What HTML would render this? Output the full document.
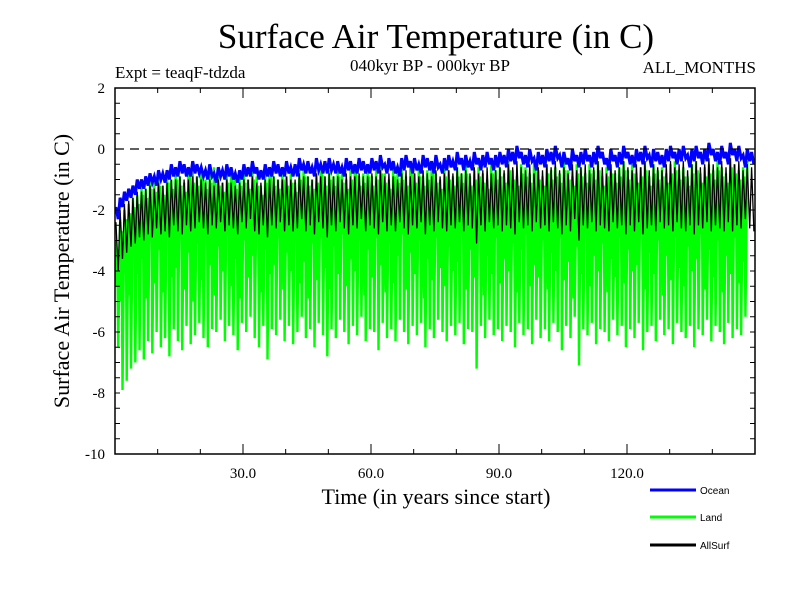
<!DOCTYPE html>
<html><head><meta charset="utf-8"><style>
body{margin:0;background:#fff}
svg{display:block}
text{font-family:"Liberation Serif",serif;fill:#000}
</style></head><body>
<svg id="chart" width="800" height="600" viewBox="0 0 800 600">
<defs><clipPath id="plotclip"><rect x="115" y="88" width="640" height="366"/></clipPath></defs>
<rect width="800" height="600" fill="#fff"/>
<text x="436" y="48" font-size="35" text-anchor="middle">Surface Air Temperature (in C)</text>
<text x="115" y="78" font-size="17">Expt = teaqF-tdzda</text>
<text x="430" y="71" font-size="17" text-anchor="middle">040kyr BP - 000kyr BP</text>
<text x="756" y="73" font-size="17" text-anchor="end">ALL_MONTHS</text>
<text transform="translate(69,271) rotate(-90)" font-size="22" text-anchor="middle">Surface Air Temperature (in C)</text>
<text x="436" y="504" font-size="22" text-anchor="middle">Time (in years since start)</text>
<g id="series" clip-path="url(#plotclip)"></g>
<g id="axes"></g>
<g>
<line x1="650" y1="490" x2="696" y2="490" stroke="#0000ff" stroke-width="3"/>
<text x="700" y="494" font-size="10" style="font-family:'Liberation Sans',sans-serif">Ocean</text>
<line x1="650" y1="517" x2="696" y2="517" stroke="#00ff00" stroke-width="3"/>
<text x="700" y="521" font-size="10" style="font-family:'Liberation Sans',sans-serif">Land</text>
<line x1="650" y1="545" x2="696" y2="545" stroke="#000" stroke-width="3"/>
<text x="700" y="549" font-size="10" style="font-family:'Liberation Sans',sans-serif">AllSurf</text>
</g>
</svg>
<script>
const yTicks=[2,0,-2,-4,-6,-8,-10];
const xTicks=[30,60,90,120];
const xTickLabels=["30.0","60.0","90.0","120.0"];
const landMax=[-3.0,-2.4,-2.0,-1.8,-1.6,-1.5,-1.2,-1.3,-1.0,-1.1,-0.9,-1.2,-0.8,-1.0,-0.7,-0.9,-1.1,-0.6,-0.8,-0.9,-0.7,-1.0,-0.8,-0.6,-0.9,-1.1,-0.8,-0.7,-1.0,-0.9,-0.8,-1.0,-0.7,-0.9,-1.2,-0.8,-0.6,-0.9,-1.0,-0.7,-0.9,-0.8,-1.1,-0.7,-0.6,-0.9,-1.0,-0.8,-0.5,-0.9,-0.7,-0.9,-0.6,-0.8,-1.0,-0.7,-0.5,-0.9,-0.8,-0.6,-0.9,-0.7,-0.5,-0.8,-1.0,-0.6,-0.8,-0.7,-0.9,-0.5,-0.8,-0.6,-0.9,-0.7,-0.5,-0.8,-1.0,-0.6,-0.7,-0.9,-0.6,-0.8,-0.5,-0.9,-0.7,-0.6,-0.8,-1.0,-0.5,-0.7,-0.6,-0.8,-0.4,-0.7,-0.9,-0.5,-0.6,-0.8,-0.4,-0.7,-0.9,-0.5,-0.7,-0.6,-0.8,-0.4,-0.7,-0.9,-0.5,-0.6,-0.8,-0.5,-0.7,-0.4,-0.9,-0.6,-0.5,-0.8,-0.6,-0.4,-0.7,-0.5,-0.8,-0.6,-0.4,-0.9,-0.5,-0.7,-0.6,-0.8,-0.5,-0.4,-0.7,-0.6,-0.9,-0.5,-0.4,-0.8,-0.6,-0.5,-0.7,-0.4,-0.6,-0.8,-0.3,-0.5,-0.7,-0.6,-0.4,-0.5];
const landMin=[-6.5,-7.9,-7.6,-7.2,-7.0,-6.6,-6.9,-6.3,-6.7,-6.0,-6.5,-6.2,-6.8,-5.9,-6.3,-6.6,-5.8,-6.4,-6.1,-5.7,-6.2,-6.5,-5.9,-6.0,-5.6,-6.3,-5.8,-6.1,-6.6,-5.7,-6.0,-5.5,-6.2,-6.5,-5.8,-6.9,-5.9,-6.1,-5.6,-6.3,-5.8,-6.4,-6.0,-5.5,-6.2,-5.9,-6.5,-5.7,-6.1,-6.8,-5.9,-6.2,-5.6,-6.0,-6.4,-5.8,-6.1,-5.5,-6.3,-5.9,-6.0,-6.6,-5.7,-6.2,-5.9,-6.3,-5.6,-6.0,-6.4,-5.8,-6.1,-5.7,-6.5,-5.9,-6.2,-5.6,-6.0,-6.3,-5.8,-6.1,-5.7,-6.4,-5.9,-6.0,-7.2,-5.8,-6.2,-5.6,-6.1,-5.9,-6.3,-5.8,-6.0,-6.5,-5.7,-6.1,-5.9,-6.4,-5.6,-6.2,-5.9,-6.3,-5.7,-6.0,-6.6,-5.8,-6.2,-5.5,-7.1,-5.9,-6.1,-5.7,-6.4,-5.9,-6.0,-6.3,-5.6,-6.1,-5.8,-6.5,-5.9,-6.2,-5.7,-6.6,-6.0,-5.8,-6.3,-5.6,-6.1,-5.9,-6.4,-5.7,-6.0,-6.2,-5.8,-6.5,-5.9,-6.1,-5.6,-6.3,-5.8,-6.0,-6.4,-5.7,-6.2,-5.9,-6.1,-5.5,-6.0,-6.3];
const landMid=[-4.5,-5.0,-3.2,-4.8,-2.9,-4.1,-3.6,-4.9,-3.0,-4.4,-3.3,-4.7,-2.8,-4.2,-3.9,-2.7,-4.6,-3.4,-5.0,-3.1,-4.3,-2.9,-3.8,-4.8,-3.2,-4.0,-2.8,-4.5,-3.6,-4.9,-3.0,-4.2,-3.5,-2.7,-4.7,-3.3,-4.1,-3.8,-2.9,-4.6,-3.4,-4.0,-2.8,-4.4,-3.7,-4.9,-3.1,-4.3,-2.9,-3.9,-4.6,-3.2,-4.1,-2.8,-4.5,-3.6,-4.0,-3.0,-4.8,-3.3,-4.2,-2.9,-3.8,-4.7,-3.1,-4.4,-3.5,-2.8,-4.6,-3.4,-4.1,-3.0,-4.9,-3.6,-4.3,-2.9,-3.9,-4.5,-3.2,-4.0,-3.7,-2.8,-4.6,-3.3,-4.2,-3.0,-4.8,-3.5,-4.1,-2.9,-4.4,-3.6,-4.0,-3.1,-4.7,-3.3,-2.8,-4.5,-3.8,-4.2,-3.0,-4.6,-3.4,-4.0,-2.9,-4.3,-3.7,-4.9,-3.2,-4.1,-2.8,-4.5,-3.5,-4.0,-3.1,-4.7,-3.6,-4.2,-2.9,-4.4,-3.3,-4.0,-3.8,-2.8,-4.6,-3.4,-4.1,-3.0,-4.8,-3.5,-4.3,-2.9,-3.9,-4.5,-3.2,-4.0,-3.6,-2.8,-4.6,-3.3,-4.2,-3.0,-4.7,-3.5,-4.1,-2.9,-4.4,-3.7];
const oceanMax=[-1.9,-1.6,-1.4,-1.3,-1.2,-1.0,-1.0,-0.9,-0.8,-0.9,-0.7,-0.8,-0.7,-0.5,-0.6,-0.4,-0.5,-0.6,-0.4,-0.5,-0.6,-0.7,-0.5,-0.8,-0.6,-0.7,-0.5,-0.6,-0.8,-0.7,-0.5,-0.6,-0.4,-0.6,-0.7,-0.5,-0.6,-0.4,-0.5,-0.6,-0.4,-0.6,-0.5,-0.3,-0.5,-0.4,-0.6,-0.3,-0.5,-0.4,-0.3,-0.5,-0.4,-0.6,-0.3,-0.4,-0.5,-0.3,-0.4,-0.5,-0.3,-0.4,-0.2,-0.5,-0.3,-0.4,-0.6,-0.3,-0.2,-0.4,-0.3,-0.5,-0.2,-0.3,-0.4,-0.2,-0.5,-0.3,-0.2,-0.4,-0.1,-0.3,-0.2,-0.4,-0.1,-0.3,-0.2,-0.1,-0.3,-0.2,-0.1,-0.2,0.0,-0.1,0.1,-0.1,-0.2,0.0,-0.3,-0.1,-0.2,0.0,-0.1,0.1,-0.2,-0.1,-0.3,0.0,-0.2,-0.1,0.0,-0.2,-0.1,0.1,-0.1,-0.3,0.0,-0.2,-0.1,0.1,-0.1,-0.2,0.0,-0.1,0.1,-0.2,0.0,-0.1,-0.2,0.0,0.1,-0.1,0.0,0.1,-0.2,0.0,0.1,-0.1,0.0,0.2,0.0,-0.1,0.1,-0.1,0.2,0.0,0.1,-0.2,0.0,-0.1];
const oceanMin=[-2.3,-1.9,-1.7,-1.6,-1.5,-1.3,-1.3,-1.2,-1.1,-1.2,-1.0,-1.1,-1.0,-0.9,-0.9,-0.8,-0.9,-0.9,-0.8,-0.8,-0.9,-1.0,-0.9,-1.1,-0.9,-1.0,-0.9,-1.0,-1.1,-1.0,-0.9,-0.9,-0.8,-1.0,-1.0,-0.9,-0.9,-0.8,-0.9,-0.9,-0.8,-0.9,-0.9,-0.7,-0.8,-0.8,-0.9,-0.7,-0.8,-0.8,-0.7,-0.8,-0.8,-0.9,-0.7,-0.8,-0.8,-0.7,-0.8,-0.8,-0.7,-0.8,-0.6,-0.8,-0.7,-0.8,-0.9,-0.7,-0.6,-0.8,-0.7,-0.8,-0.6,-0.7,-0.8,-0.6,-0.8,-0.7,-0.6,-0.7,-0.5,-0.7,-0.6,-0.7,-0.5,-0.7,-0.6,-0.5,-0.7,-0.6,-0.5,-0.6,-0.4,-0.5,-0.3,-0.5,-0.6,-0.4,-0.7,-0.5,-0.6,-0.4,-0.5,-0.3,-0.6,-0.5,-0.7,-0.4,-0.6,-0.5,-0.4,-0.6,-0.5,-0.3,-0.5,-0.7,-0.4,-0.6,-0.5,-0.3,-0.5,-0.6,-0.4,-0.5,-0.3,-0.6,-0.4,-0.5,-0.6,-0.4,-0.3,-0.5,-0.4,-0.3,-0.6,-0.4,-0.3,-0.5,-0.4,-0.2,-0.4,-0.5,-0.3,-0.5,-0.2,-0.4,-0.3,-0.6,-0.4,-0.5];
const allMax=[-2.4,-2.0,-1.8,-1.7,-1.6,-1.4,-1.4,-1.3,-1.2,-1.3,-1.1,-1.2,-1.1,-1.0,-1.0,-0.9,-1.0,-1.0,-0.9,-0.9,-1.0,-1.1,-1.0,-1.2,-1.0,-1.1,-1.0,-1.1,-1.2,-1.1,-1.0,-1.0,-0.9,-1.1,-1.1,-1.0,-1.0,-0.9,-1.0,-1.0,-0.9,-1.0,-1.0,-0.8,-0.9,-0.9,-1.0,-0.8,-0.9,-0.9,-0.8,-0.9,-0.9,-1.0,-0.8,-0.9,-0.9,-0.8,-0.9,-0.9,-0.8,-0.9,-0.7,-0.9,-0.8,-0.9,-1.0,-0.8,-0.7,-0.9,-0.8,-0.9,-0.7,-0.8,-0.9,-0.7,-0.9,-0.8,-0.7,-0.8,-0.6,-0.8,-0.7,-0.8,-0.6,-0.8,-0.7,-0.6,-0.8,-0.7,-0.6,-0.7,-0.5,-0.6,-0.4,-0.6,-0.7,-0.5,-0.8,-0.6,-0.7,-0.5,-0.6,-0.4,-0.7,-0.6,-0.8,-0.5,-0.7,-0.6,-0.5,-0.7,-0.6,-0.4,-0.6,-0.8,-0.5,-0.7,-0.6,-0.4,-0.6,-0.7,-0.5,-0.6,-0.4,-0.7,-0.5,-0.6,-0.7,-0.5,-0.4,-0.6,-0.5,-0.4,-0.7,-0.5,-0.4,-0.6,-0.5,-0.3,-0.5,-0.6,-0.4,-0.6,-0.3,-0.5,-0.4,-0.7,-0.5,-0.6];
const allMin=[-4.0,-3.6,-3.4,-3.2,-3.1,-2.9,-3.0,-2.8,-2.9,-2.6,-2.8,-2.7,-2.9,-2.5,-2.7,-2.8,-2.5,-2.7,-2.6,-2.4,-2.6,-2.8,-2.5,-2.6,-2.4,-2.7,-2.5,-2.6,-2.8,-2.4,-2.6,-2.3,-2.7,-2.8,-2.5,-2.9,-2.5,-2.6,-2.4,-2.7,-2.5,-2.7,-2.6,-2.3,-2.7,-2.5,-2.8,-2.4,-2.6,-2.9,-2.5,-2.7,-2.4,-2.6,-2.8,-2.5,-2.6,-2.3,-2.7,-2.5,-2.6,-2.8,-2.4,-2.7,-2.5,-2.7,-2.4,-2.6,-2.8,-2.5,-2.6,-2.4,-2.8,-2.5,-2.7,-2.4,-2.6,-2.7,-2.5,-2.6,-2.4,-2.7,-2.5,-2.6,-3.1,-2.5,-2.7,-2.4,-2.6,-2.5,-2.7,-2.5,-2.6,-2.8,-2.4,-2.6,-2.5,-2.7,-2.4,-2.6,-2.5,-2.7,-2.4,-2.6,-2.8,-2.5,-2.7,-2.3,-3.0,-2.5,-2.6,-2.4,-2.7,-2.5,-2.6,-2.7,-2.4,-2.6,-2.5,-2.8,-2.5,-2.7,-2.4,-2.8,-2.6,-2.5,-2.7,-2.4,-2.6,-2.5,-2.7,-2.4,-2.6,-2.7,-2.5,-2.8,-2.5,-2.6,-2.4,-2.7,-2.5,-2.6,-2.7,-2.4,-2.7,-2.5,-2.6,-2.3,-2.6,-2.7];

const X0=115,X1=755,Y0=88,Y1=454,XMIN=0,XMAX=150,YMIN=-10,YMAX=2;
const sx=v=>X0+(v-XMIN)/(XMAX-XMIN)*(X1-X0);
const sy=v=>Y1-(v-YMIN)/(YMAX-YMIN)*(Y1-Y0);
const NS="http://www.w3.org/2000/svg";
const series=document.getElementById('series');
const axes=document.getElementById('axes');
function mk(tag,attrs,parent){const e=document.createElementNS(NS,tag);for(const k in attrs)e.setAttribute(k,attrs[k]);parent.appendChild(e);return e;}

function zig(maxArr,minArr,midArr){let d='';for(let i=0;i<maxArr.length;i++){
  d+=(i?'L':'M')+sx(i+0.2).toFixed(1)+','+sy(maxArr[i]).toFixed(1);
  if(midArr){d+='L'+sx(i+0.45).toFixed(1)+','+sy(midArr[i]).toFixed(1)+'L'+sx(i+0.55).toFixed(1)+','+sy(maxArr[i]-0.3).toFixed(1);}
  d+='L'+sx(i+0.75).toFixed(1)+','+sy(minArr[i]).toFixed(1);}return d;}

const land=mk('path',{d:zig(landMax,landMin,landMid),fill:'none',stroke:'#00ff00','stroke-width':2.4},series);


const all=mk('path',{d:zig(allMax,allMin),fill:'none',stroke:'#000','stroke-width':1.3},series);


const ocean=mk('path',{d:zig(oceanMax,oceanMin),fill:'none',stroke:'#0000ff','stroke-width':3},series);



const zero=mk('line',{x1:X0,x2:X1,y1:sy(0),y2:sy(0),stroke:'#000','stroke-width':1.2,'stroke-dasharray':'9,6'},axes);


const frame=mk('rect',{x:X0,y:Y0,width:X1-X0,height:Y1-Y0,fill:'none',stroke:'#000','stroke-width':1.5},axes);



for(let v=YMIN+0.5;v<YMAX;v+=0.5){
  mk('line',{x1:X0,x2:X0+5,y1:sy(v),y2:sy(v),stroke:'#000'},axes);
  mk('line',{x1:X1-5,x2:X1,y1:sy(v),y2:sy(v),stroke:'#000'},axes);
}
yTicks.forEach(v=>{
  const t=mk('text',{x:X0-10,y:sy(v)+5,'font-size':15,'text-anchor':'end'},axes);
  t.textContent=String(v);
  
  
});
for(let v=10;v<XMAX;v+=10){
  const major=v%30===0;const L=major?10:5;
  mk('line',{x1:sx(v),x2:sx(v),y1:Y1,y2:Y1-L,stroke:'#000'},axes);
  mk('line',{x1:sx(v),x2:sx(v),y1:Y0,y2:Y0+L,stroke:'#000'},axes);
}
xTicks.forEach((v,i)=>{
  const t=mk('text',{x:sx(v),y:Y1+24,'font-size':15,'text-anchor':'middle'},axes);
  t.textContent=xTickLabels[i];
  
  
});
</script>
</body></html>
